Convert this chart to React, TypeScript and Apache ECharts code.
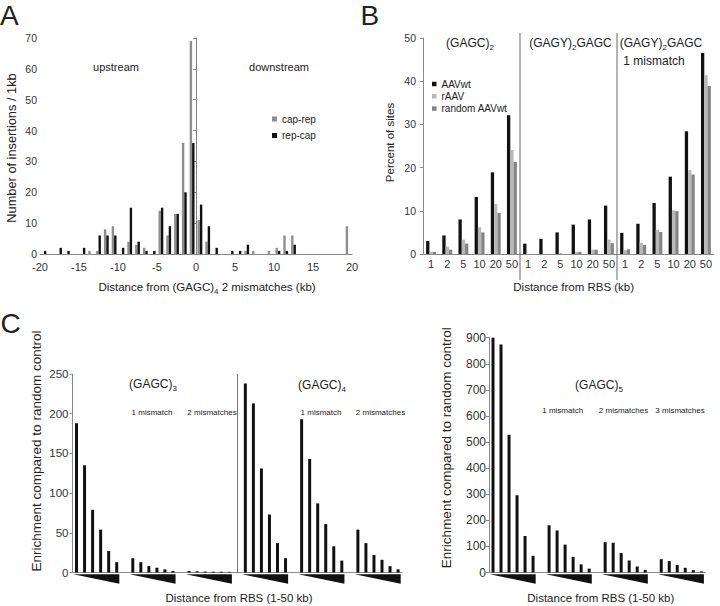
import React, { useEffect, useRef } from "react";
import * as echarts from "echarts";

const FONT = '"Liberation Sans", Arial, Helvetica, sans-serif';

// ---------- Panel A ----------
const binStartsA = [-20, -19, -18, -17, -16, -15, -14, -13, -12, -11, -10, -9, -8, -7, -6, -5, -4, -3, -2, -1, 0, 1, 2, 3, 4, 5, 6, 7, 8, 9, 10, 11, 12, 13, 14, 15, 16, 17, 18, 19];
const capRep = [0, 0, 0, 0, 0, 0, 1, 1, 8, 9, 0, 4, 3, 2, 0, 14, 6, 13, 36, 69, 11, 4, 0, 0, 0, 0, 1, 1, 0, 1, 2, 6, 6, 0, 0, 0, 0, 0, 0, 9];
const repCap = [1, 0, 2, 1, 0, 2, 0, 6, 6, 6, 2, 15, 4, 1, 1, 15, 9, 13, 20, 36, 16, 9, 2, 0, 1, 1, 3, 0, 0, 0, 1, 1, 3, 0, 0, 0, 0, 0, 0, 0];

// ---------- Panel B ----------
const distancesB = ["1", "2", "5", "10", "20", "50"];
const motifsB = ["(GAGC)2", "(GAGY)2GAGC", "(GAGY)2GAGC 1 mismatch"];
const aavwt = [3.0, 4.3, 8.0, 13.2, 18.9, 32.1, 2.4, 3.5, 5.0, 6.8, 8.0, 11.2, 4.9, 7.0, 11.8, 17.9, 28.4, 46.5];
const raav = [0.5, 1.7, 3.3, 6.2, 11.6, 24.1, 0, 0, 0.2, 0.5, 1.0, 3.3, 0.9, 2.6, 5.6, 10.1, 19.4, 41.4];
const randomAavwt = [0.5, 1.0, 2.4, 5.0, 9.5, 21.3, 0, 0, 0, 0.5, 1.0, 2.5, 1.1, 2.1, 5.1, 9.9, 18.4, 38.9];

// ---------- Panel C ----------
const gagc3 = [188, 135, 79, 54, 27, 13];
const gagc3mm1 = [18, 13, 8, 6, 4, 2];
const gagc3mm2 = [2, 1.5, 1.2, 1, 1, 0.8];
const gagc4 = [238, 213, 131, 73, 37, 18];
const gagc4mm1 = [193, 143, 87, 61, 33, 15];
const gagc4mm2 = [54, 37, 22, 16, 8, 4];
const gagc5 = [900, 874, 528, 296, 140, 64];
const gagc5mm1 = [181, 161, 107, 60, 31, 15];
const gagc5mm2 = [116, 114, 75, 46, 23, 10];
const gagc5mm3 = [51, 44, 29, 18, 9, 4];

function buildSlots(groups: number[][], prefix: string) {
  const cats: string[] = [];
  const vals: (number | null)[] = [];
  const spans: number[][] = [];
  const gaps: string[] = [];
  groups.forEach((g, gi) => {
    if (gi > 0) {
      const name = `${prefix}gap${gi}`;
      cats.push(name);
      gaps.push(name);
      vals.push(null);
    }
    const start = cats.length;
    g.forEach((v, i) => {
      cats.push(`${prefix}${gi}-${i}`);
      vals.push(v);
    });
    spans.push([start, cats.length - 1]);
  });
  return { cats, vals, spans, gaps };
}

const c1 = buildSlots([gagc3, gagc3mm1, gagc3mm2, gagc4, gagc4mm1, gagc4mm2], "L");
const c2 = buildSlots([gagc5, gagc5mm1, gagc5mm2, gagc5mm3], "R");

const bCats = motifsB.flatMap((m, mi) => distancesB.map((d) => `${mi}|${d}`));
const bSeparators = motifsB.slice(1).map((_, i) => [(i + 1) * distancesB.length - 1, 0]);

const TXT = "#222";

function txt(text: string, x: number, y: number, size: number, extra: any = {}) {
  return {
    type: "text",
    x,
    y,
    rotation: extra.rotation || 0,
    silent: true,
    style: {
      text,
      fontSize: size,
      fontFamily: FONT,
      fill: TXT,
      align: extra.align || "center",
      verticalAlign: "middle",
    },
  };
}

function subTxt(text: string, x: number, y: number, size: number) {
  return {
    type: "text",
    x,
    y,
    silent: true,
    style: {
      text,
      fontSize: size,
      fontFamily: FONT,
      fill: TXT,
      align: "center",
      verticalAlign: "middle",
      lineHeight: size + 5,
      rich: {
        s: {
          fontSize: Math.round(size * 0.7),
          fontFamily: FONT,
          fill: TXT,
          lineHeight: 8,
          verticalAlign: "bottom",
        },
      },
    },
  };
}

const axisGray = "#8a8a8a";

function wedgeRender(params: any, api: any) {
  const s = api.coord([api.value(0), 0]);
  const e = api.coord([api.value(1), 0]);
  const top = s[1] + 1.8;
  return {
    type: "polygon",
    shape: {
      points: [
        [s[0] - 3.2, top],
        [e[0] + 2.6, top],
        [e[0] + 2.6, top + 9.5],
      ],
    },
    style: { fill: "#111" },
  };
}

function separatorRender(params: any, api: any) {
  const base = api.coord([api.value(0), 0]);
  const topP = api.coord([api.value(0), 50]);
  const w = api.size([1, 0])[0];
  const x = base[0] + w / 2;
  return {
    type: "line",
    shape: { x1: x, y1: topP[1] - 5, x2: x, y2: base[1] + 26 },
    style: { stroke: "#666", lineWidth: 1 },
  };
}

const yAxisCommon = (gridIndex: number, max: number, interval: number, fontSize: number, margin: number) => ({
  type: "value",
  gridIndex,
  min: 0,
  max,
  interval,
  axisLine: { show: true, lineStyle: { color: axisGray, width: 1 } },
  axisTick: { show: true, length: 3, lineStyle: { color: axisGray } },
  axisLabel: { fontSize, fontFamily: FONT, color: "#333", margin },
  splitLine: { show: false },
});

const option: any = {
  animation: false,
  textStyle: { fontFamily: FONT },
  grid: [
    { left: 40, top: 38, width: 312, height: 216 },
    { left: 423, top: 38, width: 291, height: 216 },
    { left: 72.5, top: 374, width: 329.6, height: 198.5 },
    { left: 489, top: 337.7, width: 216.3, height: 234.8 },
  ],
  xAxis: [
    { type: "category", gridIndex: 0, position: "bottom", data: binStartsA.map(String), show: false },
    {
      type: "value",
      gridIndex: 0,
      position: "bottom",
      min: -20,
      max: 20,
      interval: 5,
      axisLine: { show: true, lineStyle: { color: axisGray } },
      axisTick: { show: false },
      axisLabel: { fontSize: 11, fontFamily: FONT, color: "#333", margin: 7 },
      splitLine: { show: false },
    },
    {
      type: "category",
      gridIndex: 1,
      data: bCats,
      axisLine: { show: true, lineStyle: { color: axisGray } },
      axisTick: { show: false },
      axisLabel: {
        interval: 0,
        fontSize: 11,
        fontFamily: FONT,
        color: "#333",
        margin: 4,
        formatter: (v: string) => v.split("|")[1],
      },
    },
    {
      type: "category",
      gridIndex: 2,
      data: c1.cats,
      axisLine: { show: true, lineStyle: { color: axisGray } },
      axisTick: { show: false },
      axisLabel: { show: false },
    },
    {
      type: "category",
      gridIndex: 3,
      data: c2.cats,
      axisLine: { show: true, lineStyle: { color: axisGray } },
      axisTick: { show: false },
      axisLabel: { show: false },
    },
  ],
  yAxis: [
    yAxisCommon(0, 70, 10, 10.5, 3),
    yAxisCommon(1, 50, 10, 10.5, 7),
    yAxisCommon(2, 250, 50, 11.5, 4),
    yAxisCommon(3, 900, 100, 12, 3),
  ],
  legend: [
    {
      data: ["cap-rep", "rep-cap"],
      orient: "vertical",
      left: 272,
      top: 113,
      padding: 0,
      itemWidth: 5,
      itemHeight: 5,
      itemGap: 4.5,
      icon: "rect",
      selectedMode: false,
      textStyle: { fontSize: 10, fontFamily: FONT, color: TXT, lineHeight: 12 },
    },
    {
      data: ["AAVwt", "rAAV", "random AAVwt"],
      orient: "vertical",
      left: 432,
      top: 78,
      padding: 0,
      itemWidth: 4.5,
      itemHeight: 4.5,
      itemGap: 0.3,
      icon: "rect",
      selectedMode: false,
      textStyle: { fontSize: 10, fontFamily: FONT, color: TXT, lineHeight: 12 },
    },
  ],
  series: [
    // Panel A
    {
      type: "bar",
      name: "cap-rep",
      xAxisIndex: 0,
      yAxisIndex: 0,
      data: capRep,
      barWidth: 2.4,
      barGap: "0%",
      itemStyle: { color: "#8e8e8e" },
    },
    {
      type: "bar",
      name: "rep-cap",
      xAxisIndex: 0,
      yAxisIndex: 0,
      data: repCap,
      barWidth: 2.4,
      barGap: "0%",
      itemStyle: { color: "#111" },
    },
    {
      type: "line",
      xAxisIndex: 1,
      yAxisIndex: 0,
      data: [],
      silent: true,
      markLine: {
        silent: true,
        symbol: "none",
        label: { show: false },
        lineStyle: { type: [3, 2], color: "#7a7a7a", width: 0.8 },
        data: [{ xAxis: 0 }],
      },
    },
    // Panel B
    {
      type: "bar",
      name: "AAVwt",
      xAxisIndex: 2,
      yAxisIndex: 1,
      data: aavwt,
      barWidth: 3.3,
      barGap: "0%",
      itemStyle: { color: "#111" },
    },
    {
      type: "bar",
      name: "rAAV",
      xAxisIndex: 2,
      yAxisIndex: 1,
      data: raav,
      barWidth: 3.3,
      barGap: "0%",
      itemStyle: { color: "#b8b8b8" },
    },
    {
      type: "bar",
      name: "random AAVwt",
      xAxisIndex: 2,
      yAxisIndex: 1,
      data: randomAavwt,
      barWidth: 3.3,
      barGap: "0%",
      itemStyle: { color: "#848484" },
    },
    {
      type: "custom",
      xAxisIndex: 2,
      yAxisIndex: 1,
      silent: true,
      clip: false,
      data: bSeparators,
      renderItem: separatorRender,
    },
    // Panel C left
    {
      type: "bar",
      name: "C-left",
      xAxisIndex: 3,
      yAxisIndex: 2,
      data: c1.vals,
      barWidth: 3,
      itemStyle: { color: "#111" },
      markLine: {
        silent: true,
        symbol: "none",
        label: { show: false },
        lineStyle: { type: "solid", color: "#777", width: 1 },
        data: [{ xAxis: c1.gaps[2] }],
      },
    },
    {
      type: "custom",
      xAxisIndex: 3,
      yAxisIndex: 2,
      silent: true,
      clip: false,
      data: c1.spans,
      renderItem: wedgeRender,
    },
    // Panel C right
    {
      type: "bar",
      name: "C-right",
      xAxisIndex: 4,
      yAxisIndex: 3,
      data: c2.vals,
      barWidth: 3,
      itemStyle: { color: "#111" },
    },
    {
      type: "custom",
      xAxisIndex: 4,
      yAxisIndex: 3,
      silent: true,
      clip: false,
      data: c2.spans,
      renderItem: wedgeRender,
    },
  ],
  graphic: {
    elements: [
      // panel letters
      txt("A", 0, 15, 28, { align: "left" }),
      txt("B", 360.5, 15, 28, { align: "left" }),
      txt("C", 0.5, 323, 28, { align: "left" }),
      // Panel A
      txt("upstream", 116, 67, 11),
      txt("downstream", 279, 67, 11),
      subTxt("Distance from (GAGC){s|4} 2 mismatches (kb)", 207, 287, 11.5),
      txt("Number of insertions / 1kb", 11.7, 148, 12.8, { rotation: Math.PI / 2 }),
      // Panel B
      subTxt("(GAGC){s|2}", 470, 43, 12),
      subTxt("(GAGY){s|2}GAGC", 570.5, 43, 12),
      subTxt("(GAGY){s|2}GAGC", 661, 43, 12),
      txt("1 mismatch", 654, 61, 12),
      txt("Distance from RBS (kb)", 573.7, 287, 11.5),
      txt("Percent of sites", 390, 142.5, 11.5, { rotation: Math.PI / 2 }),
      // Panel C left
      subTxt("(GAGC){s|3}", 153, 384, 12),
      txt("1 mismatch", 152, 412, 8),
      txt("2 mismatches", 212, 412, 8),
      subTxt("(GAGC){s|4}", 322, 385, 12),
      txt("1 mismatch", 321, 412, 8),
      txt("2 mismatches", 380.5, 412, 8),
      txt("Distance from RBS (1-50 kb)", 239, 598, 11.5),
      txt("Enrichment compared to random control", 36.7, 451, 13.5, { rotation: Math.PI / 2 }),
      // Panel C right
      subTxt("(GAGC){s|5}", 599, 385, 12),
      txt("1 mismatch", 562.7, 410.7, 8),
      txt("2 mismatches", 623.5, 410.7, 8),
      txt("3 mismatches", 680, 410.7, 8),
      txt("Distance from RBS (1-50 kb)", 600.8, 598, 11.5),
      txt("Enrichment compared to random control", 446.7, 447.7, 13.5, { rotation: Math.PI / 2 }),
    ],
  },
};

export default function App() {
  const ref = useRef<HTMLDivElement>(null);
  useEffect(() => {
    if (!ref.current) return;
    const chart = echarts.init(ref.current, null, { renderer: "svg", width: 720, height: 606 });
    chart.setOption(option);
    return () => chart.dispose();
  }, []);
  return (
    <div
      ref={ref}
      style={{ position: "absolute", left: 0, top: 0, width: 720, height: 606, background: "#fff" }}
    />
  );
}
